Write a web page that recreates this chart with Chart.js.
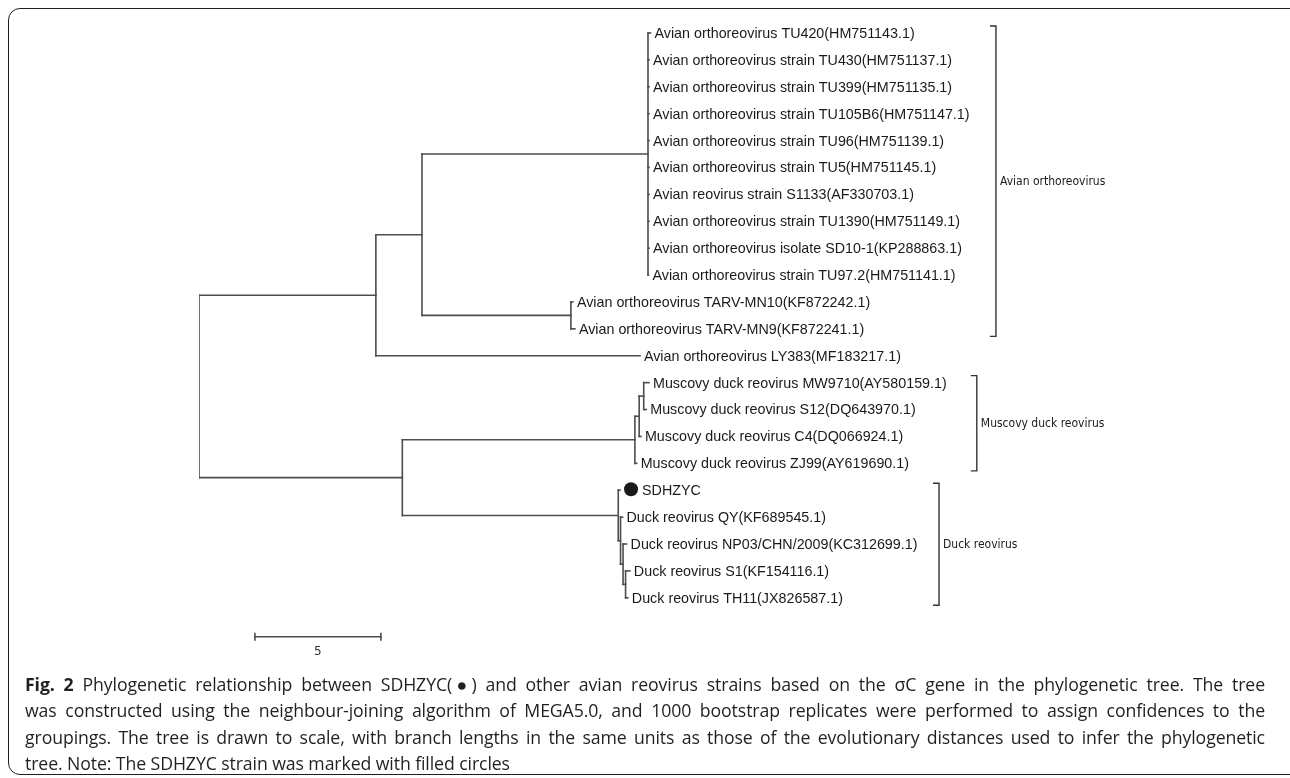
<!DOCTYPE html>
<html>
<head>
<meta charset="utf-8">
<script src="https://cdn.jsdelivr.net/npm/chart.js@4.4.1/dist/chart.umd.min.js"></script>
<style>
  html, body { margin: 0; padding: 0; background: #fff; }
  #wrap { position: relative; width: 1290px; height: 778px; overflow: hidden; }
  #frame { position: absolute; left: 8px; top: 8px; width: 1330px; height: 767px;
           border: 1.6px solid #1e1e1e; border-radius: 12px; box-sizing: border-box; }
  #tree { position: absolute; left: 0; top: 0; }
  #caption { position: absolute; left: 25px; top: 671px; width: 1240px;
             font-family: "Open Sans", "Liberation Sans", sans-serif; font-size: 17.7px;
             line-height: 26.4px; color: #231f20; letter-spacing: -0.1px; }
  #caption .j { text-align: justify; text-align-last: justify; }
</style>
</head>
<body>
<div id="wrap">
  <div id="frame"></div>
  <canvas id="tree" width="1290" height="778"></canvas>
  <div id="caption">
    <div class="j"><b>Fig. 2</b> Phylogenetic relationship between SDHZYC(●) and other avian reovirus strains based on the σC gene in the phylogenetic tree. The tree</div>
    <div class="j">was constructed using the neighbour-joining algorithm of MEGA5.0, and 1000 bootstrap replicates were performed to assign confidences to the</div>
    <div class="j">groupings. The tree is drawn to scale, with branch lengths in the same units as those of the evolutionary distances used to infer the phylogenetic</div>
    <div>tree. Note: The SDHZYC strain was marked with filled circles</div>
  </div>
</div>
<script>
// leaves, top to bottom
const leafNames = [
    'Avian orthoreovirus TU420(HM751143.1)',
    'Avian orthoreovirus strain TU430(HM751137.1)',
    'Avian orthoreovirus strain TU399(HM751135.1)',
    'Avian orthoreovirus strain TU105B6(HM751147.1)',
    'Avian orthoreovirus strain TU96(HM751139.1)',
    'Avian orthoreovirus strain TU5(HM751145.1)',
    'Avian reovirus strain S1133(AF330703.1)',
    'Avian orthoreovirus strain TU1390(HM751149.1)',
    'Avian orthoreovirus isolate SD10-1(KP288863.1)',
    'Avian orthoreovirus strain TU97.2(HM751141.1)',
    'Avian orthoreovirus TARV-MN10(KF872242.1)',
    'Avian orthoreovirus TARV-MN9(KF872241.1)',
    'Avian orthoreovirus LY383(MF183217.1)',
    'Muscovy duck reovirus MW9710(AY580159.1)',
    'Muscovy duck reovirus S12(DQ643970.1)',
    'Muscovy duck reovirus C4(DQ066924.1)',
    'Muscovy duck reovirus ZJ99(AY619690.1)',
    'SDHZYC',
    'Duck reovirus QY(KF689545.1)',
    'Duck reovirus NP03/CHN/2009(KC312699.1)',
    'Duck reovirus S1(KF154116.1)',
    'Duck reovirus TH11(JX826587.1)'
];
// distance of each tip from the root
const leafDepth = [17.92, 17.86, 17.86, 17.86, 17.86, 17.86, 17.86, 17.86, 17.86, 17.84,
                   14.84, 14.92, 17.50,
                   17.86, 17.75, 17.54, 17.37,
                   16.71, 16.81, 16.97, 17.10, 17.02];

// internal nodes
const nodeIds = ['root', 'A', 'B', 'TU', 'TARV', 'C', 'M0', 'M1', 'M2', 'D0', 'D1', 'D2', 'D3'];
const nodeDepth = [0, 7.02, 8.85, 17.82, 14.76, 8.07, 17.30, 17.47, 17.65, 16.64, 16.73, 16.83, 16.93];
const nodeChildren = [
    ['A', 'C'],
    ['B', 12],
    ['TU', 'TARV'],
    [0, 1, 2, 3, 4, 5, 6, 7, 8, 9],
    [10, 11],
    ['M0', 'D0'],
    ['M1', 16],
    ['M2', 15],
    [13, 14],
    [17, 'D1'],
    [18, 'D2'],
    [19, 'D3'],
    [20, 21]
];

const groupNames = ['Avian orthoreovirus', 'Muscovy duck reovirus', 'Duck reovirus'];
const groupFirstLeaf = [0, 13, 17];
const groupLastLeaf = [11, 16, 21];
const markedLeaves = [17];
const scaleBarLength = 5;

// layout bits
const bracketX = [31.63, 30.87, 29.37];
const scaleBarStart = 2.22;
const scaleBarRow = 22.45;
const lineColor = '#4d4d4d';

const childY = (c) => typeof c === 'number' ? c : nodeY(c);
const childDepth = (c) => typeof c === 'number' ? leafDepth[c] : nodeDepth[nodeIds.indexOf(c)];
function nodeY(id) {
    const ch = nodeChildren[nodeIds.indexOf(id)];
    return (childY(ch[0]) + childY(ch[ch.length - 1])) / 2;
}

const segments = [];
nodeIds.forEach((id, i) => {
    const ch = nodeChildren[i];
    segments.push([{ x: nodeDepth[i], y: childY(ch[0]) }, { x: nodeDepth[i], y: childY(ch[ch.length - 1]) }]);
    ch.forEach(c => {
        segments.push([{ x: nodeDepth[i], y: childY(c) }, { x: childDepth(c), y: childY(c) }]);
    });
});
segments.push([{ x: scaleBarStart, y: scaleBarRow }, { x: scaleBarStart + scaleBarLength, y: scaleBarRow }]);

const datasets = segments.map(seg => ({
    data: seg,
    borderColor: lineColor,
    borderWidth: 1.6,
    borderCapStyle: 'square',
    pointRadius: 0,
    fill: false,
    tension: 0
}));

const treeLabels = {
    id: 'treeLabels',
    afterDatasetsDraw(chart) {
        const { ctx, scales: { x, y } } = chart;
        ctx.save();

        // tip labels
        ctx.font = '14.3px "Liberation Sans", Arial, sans-serif';
        ctx.fillStyle = '#1a1a1a';
        ctx.textBaseline = 'middle';
        leafNames.forEach((name, i) => {
            let px = x.getPixelForValue(leafDepth[i]) + 4;
            const py = y.getPixelForValue(i);
            if (markedLeaves.includes(i)) {
                ctx.beginPath();
                ctx.arc(px + 7, py - 1, 7, 0, Math.PI * 2);
                ctx.fill();
                px += 18;
            }
            ctx.fillText(name, px, py + 1);
        });

        // group brackets
        ctx.strokeStyle = '#333';
        ctx.lineWidth = 1.4;
        groupNames.forEach((g, k) => {
            const bx = x.getPixelForValue(bracketX[k]);
            const top = y.getPixelForValue(groupFirstLeaf[k]) - 7;
            const bottom = y.getPixelForValue(groupLastLeaf[k]) + 7.5;
            ctx.beginPath();
            ctx.moveTo(bx - 6, top);
            ctx.lineTo(bx, top);
            ctx.lineTo(bx, bottom);
            ctx.lineTo(bx - 6, bottom);
            ctx.stroke();
            ctx.font = '12px "DejaVu Sans Condensed", "DejaVu Sans", sans-serif';
            ctx.fillStyle = '#1a1a1a';
            ctx.fillText(g, bx + 4, (top + bottom) / 2 + 1);
        });

        // scale bar ticks and label
        const sx0 = x.getPixelForValue(scaleBarStart);
        const sx1 = x.getPixelForValue(scaleBarStart + scaleBarLength);
        const sy = y.getPixelForValue(scaleBarRow);
        ctx.strokeStyle = lineColor;
        ctx.lineWidth = 1.6;
        ctx.beginPath();
        ctx.moveTo(sx0, sy - 4); ctx.lineTo(sx0, sy + 4);
        ctx.moveTo(sx1, sy - 4); ctx.lineTo(sx1, sy + 4);
        ctx.stroke();
        ctx.font = '12px "DejaVu Sans", sans-serif';
        ctx.textAlign = 'center';
        ctx.fillStyle = '#333';
        ctx.fillText(String(scaleBarLength), (sx0 + sx1) / 2, sy + 15);
        ctx.restore();
    }
};

new Chart(document.getElementById('tree').getContext('2d'), {
    type: 'line',
    data: { datasets },
    options: {
        responsive: false,
        animation: false,
        layout: { padding: { left: 199, right: 0, top: 0, bottom: 0 } },
        plugins: { legend: { display: false }, tooltip: { enabled: false } },
        scales: {
            x: { type: 'linear', display: false, min: 0, max: 43.3 },
            y: { type: 'linear', display: false, reverse: true, min: -1.227, max: 27.7 }
        }
    },
    plugins: [treeLabels]
});
</script>
</body>
</html>
